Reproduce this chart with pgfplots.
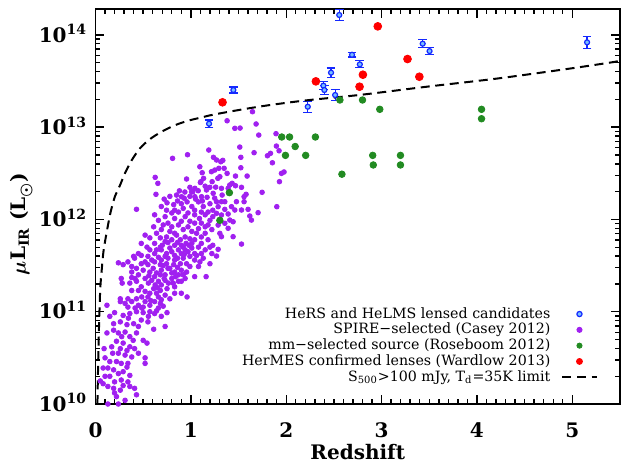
\documentclass[border=0pt]{standalone}
\usepackage{fontspec}
\setmainfont{DejaVu Serif}
\usepackage{pgfplots}
\pgfplotsset{compat=1.18}
\definecolor{cpurple}{RGB}{160,32,240}
\definecolor{cgreen}{RGB}{34,139,34}
\definecolor{cred}{RGB}{255,0,0}
\definecolor{cblue}{RGB}{20,40,255}
\definecolor{clblue}{RGB}{120,190,255}
\begin{document}
\begin{tikzpicture}
\begin{axis}[
  scale only axis,
  width=262.25pt, height=197.5pt,
  xmin=0, xmax=5.5, ymin=10, ymax=14.28,
  xtick={0,1,2,3,4,5}, xticklabels={0,1,2,3,4,5},
  minor x tick num=9,
  ytick={10,11,12,13,14},
  yticklabels={10\textsuperscript{10},10\textsuperscript{11},10\textsuperscript{12},10\textsuperscript{13},10\textsuperscript{14}},
  minor ytick={10.301,10.477,10.602,10.699,10.778,10.845,10.903,10.954,
               11.301,11.477,11.602,11.699,11.778,11.845,11.903,11.954,
               12.301,12.477,12.602,12.699,12.778,12.845,12.903,12.954,
               13.301,13.477,13.602,13.699,13.778,13.845,13.903,13.954,14.301},
  xtick pos=both, ytick pos=both,
  xticklabel pos=lower, yticklabel pos=left,
  tick align=inside,
  major tick length=4.5pt, minor tick length=2.3pt,
  axis line style={line width=0.8pt},
  every tick/.style={black, line width=0.7pt},
  tick label style={font=\fontsize{10}{12}\selectfont\bfseries, inner sep=0pt},
  xticklabel style={anchor=base, yshift=-16.8pt},
  yticklabel style={anchor=base east, xshift=-4pt, yshift=-3.6pt},
  xlabel={Redshift},
  ylabel={{\boldmath$\mu$}L\textsubscript{IR} (L\textsubscript{{\boldmath$\odot$}})},
  label style={font=\fontsize{10}{12}\selectfont\bfseries},
  xlabel style={at={(axis description cs:0.5,0)}, anchor=base, yshift=-27.8pt, inner sep=0pt},
  ylabel style={at={(axis description cs:-0.141,0.456)}, anchor=center, inner sep=0pt},
  legend style={draw=none, fill=none, at={(axis description cs:0.958,0.049)}, anchor=south east,
     inner sep=0pt, font=\fontsize{7.1}{8}\selectfont, row sep=0.9pt, column sep=5.5pt,
     nodes={inner sep=0pt, text height=5.5pt, text depth=1.5pt}},
  legend cell align=right,
  legend plot pos=right,
]
\coordinate (ll) at (rel axis cs:0,0);
\addlegendimage{only marks, mark=*, mark size=1.3pt, mark options={draw=cblue, fill=clblue, line width=0.6pt}}
\addlegendentry{HeRS and HeLMS lensed candidates}
\addlegendimage{only marks, mark=*, mark size=1.3pt, mark options={draw=cpurple, fill=cpurple}}
\addlegendentry{SPIRE−selected (Casey 2012)}
\addlegendimage{only marks, mark=*, mark size=1.3pt, mark options={draw=cgreen, fill=cgreen}}
\addlegendentry{mm−selected source (Roseboom 2012)}
\addlegendimage{only marks, mark=*, mark size=1.5pt, mark options={draw=cred, fill=cred}}
\addlegendentry{HerMES confirmed lenses (Wardlow 2013)}
\addlegendimage{black, line width=1pt, dash pattern=on 4.5pt off 2.8pt}
\addlegendentry{S\textsubscript{500}>100 mJy, T\textsubscript{d}=35K limit}

% SPIRE-selected (Casey 2012): redshift, log10(mu L_IR)
\addplot[forget plot, only marks, mark=*, mark size=1.17pt, mark options={draw=cpurple, fill=cpurple}] table[x=z, y=l] {
z l
1.188 12.752
0.965 12.701
0.808 12.662
1.237 12.673
1.094 12.571
1.119 12.506
1.216 12.517
0.626 12.456
0.654 12.391
0.955 12.438
1.105 12.409
1.133 12.445
1.223 12.409
0.634 12.272
1.199 12.348
1.042 12.337
0.990 12.348
1.007 12.300
0.937 12.297
0.850 12.264
0.902 12.246
1.077 12.311
1.164 12.319
1.234 12.283
1.042 12.246
1.112 12.246
1.646 13.167
1.380 13.069
1.461 12.987
1.516 12.990
1.684 13.034
1.712 12.914
1.893 12.929
1.897 12.795
1.925 12.744
1.513 12.784
1.663 12.723
1.835 12.716
1.803 12.690
1.855 12.614
1.524 12.673
1.524 12.560
1.269 12.644
1.314 12.625
1.335 12.640
1.251 12.535
1.293 12.554
1.349 12.554
1.380 12.499
1.283 12.445
1.304 12.463
1.468 12.470
1.590 12.470
1.950 12.499
1.977 12.514
1.929 12.409
1.433 12.391
1.408 12.373
1.468 12.365
1.531 12.348
1.321 12.337
1.391 12.337
1.747 12.294
1.579 12.272
1.558 12.246
1.328 12.264
1.269 12.192
1.321 12.192
1.356 12.192
1.478 12.192
1.558 12.192
1.901 12.138
1.286 12.138
1.426 12.138
1.356 12.109
1.461 12.102
1.531 12.102
1.600 12.109
1.705 12.073
1.618 12.037
1.635 11.993
1.269 12.066
1.321 12.048
1.391 12.059
1.408 11.993
1.443 11.975
1.356 11.958
1.286 11.939
1.391 11.904
1.304 11.849
1.321 11.813
1.443 11.813
1.531 11.733
1.286 11.676
1.269 11.603
0.43 12.11
0.62 12.05
0.69 12.14
0.82 12.16
0.83 12.10
0.90 12.17
0.96 12.19
1.01 12.14
1.08 12.19
1.13 12.14
1.20 12.17
1.23 12.10
0.66 11.99
0.73 12.03
0.76 11.96
0.83 12.01
0.87 11.94
0.94 12.03
0.99 11.98
1.04 12.05
1.09 12.01
1.15 12.05
1.20 11.99
1.23 12.03
0.61 11.92
0.69 11.89
0.78 11.87
0.83 11.85
0.92 11.89
1.01 11.87
1.08 11.90
1.15 11.92
1.22 11.89
0.52 11.83
0.57 11.80
0.48 11.74
0.54 11.70
0.68 11.80
0.73 11.76
0.80 11.78
0.89 11.78
0.95 11.74
1.04 11.78
1.11 11.81
1.18 11.78
1.23 11.72
0.45 11.63
0.41 11.58
0.48 11.61
0.55 11.60
0.62 11.63
0.69 11.67
0.78 11.69
0.87 11.67
0.94 11.67
1.01 11.69
1.08 11.70
1.15 11.67
1.22 11.63
0.24 11.53
0.29 11.51
0.34 11.54
0.38 11.49
0.43 11.47
0.48 11.52
0.55 11.51
0.62 11.54
0.69 11.56
0.76 11.58
0.83 11.56
0.92 11.58
0.99 11.60
1.06 11.61
1.13 11.58
1.20 11.52
0.38 11.43
0.45 11.40
0.52 11.36
0.57 11.43
0.64 11.42
0.69 11.45
0.76 11.47
0.83 11.43
0.90 11.45
0.99 11.49
1.08 11.49
1.16 11.38
0.27 11.36
0.36 11.31
0.43 11.33
0.48 11.27
0.59 11.34
0.66 11.33
0.73 11.34
0.80 11.36
0.87 11.33
0.94 11.36
1.04 11.38
0.45 11.23
0.52 11.22
0.61 11.25
0.68 11.23
0.75 11.25
0.83 11.27
0.90 11.20
0.96 11.16
0.26 11.14
0.34 11.14
0.43 11.14
0.55 11.16
0.66 11.16
0.73 11.18
0.78 11.14
0.745 12.10
0.80 12.07
0.87 12.08
0.92 12.12
0.97 12.07
1.04 12.10
1.11 12.08
1.18 12.08
0.71 11.94
0.80 11.92
0.90 11.98
0.97 11.92
1.04 11.96
1.11 11.96
1.18 11.94
0.64 11.85
0.745 11.81
0.85 11.83
0.94 11.81
0.99 11.79
1.06 11.85
1.15 11.85
0.62 11.74
0.68 11.70
0.83 11.72
0.90 11.72
1.01 11.74
1.11 11.74
1.20 11.70
0.57 11.67
0.64 11.67
0.745 11.63
0.83 11.61
0.90 11.63
0.97 11.65
1.04 11.63
1.11 11.63
0.52 11.54
0.59 11.56
0.68 11.51
0.745 11.52
0.82 11.51
0.89 11.52
0.955 11.52
1.04 11.56
1.095 11.54
0.50 11.45
0.605 11.47
0.68 11.40
0.73 11.40
0.80 11.42
0.87 11.40
0.955 11.43
0.415 11.36
0.555 11.31
0.625 11.29
0.69 11.29
0.765 11.31
0.815 11.31
0.90 11.33
0.38 11.23
0.57 11.20
0.64 11.20
0.69 11.13
0.83 11.20
0.485 11.16
0.26 11.11
0.31 11.09
0.34 11.05
0.38 11.11
0.45 11.07
0.52 11.11
0.57 11.07
0.62 11.11
0.68 11.09
0.71 11.06
0.12 11.07
0.20 10.99
0.29 10.96
0.36 10.98
0.43 11.00
0.50 10.99
0.57 11.00
0.62 10.98
0.75 10.99
0.19 10.87
0.26 10.89
0.33 10.86
0.40 10.87
0.48 10.91
0.55 10.89
0.73 10.84
0.61 10.81
0.12 10.77
0.19 10.80
0.24 10.77
0.31 10.78
0.36 10.73
0.43 10.77
0.50 10.69
0.54 10.66
0.22 10.68
0.29 10.66
0.36 10.62
0.41 10.60
0.17 10.62
0.24 10.55
0.31 10.53
0.38 10.51
0.10 10.50
0.15 10.46
0.22 10.46
0.27 10.44
0.34 10.44
0.33 10.40
0.52 10.50
0.52 10.44
0.08 10.39
0.13 10.39
0.19 10.37
0.24 10.33
0.29 10.35
0.36 10.31
0.10 10.30
0.15 10.30
0.20 10.24
0.27 10.26
0.34 10.24
0.08 10.22
0.13 10.19
0.19 10.17
0.26 10.15
0.36 10.19
0.41 10.17
0.43 10.10
0.20 10.12
0.13 10.00
0.24 10.00
0.31 10.04
0.415 11.04
0.485 11.04
0.555 10.95
0.66 11.04
0.345 10.93
0.45 10.84
0.275 10.73
0.395 10.69
0.15 10.95
0.69 10.95
0.40 11.60
0.28 11.31
0.38 11.37
0.72 12.22
0.78 12.25
0.86 12.20
0.93 12.23
0.99 12.25
1.05 12.22
1.12 12.20
1.17 12.24
1.25 12.23
0.75 12.18
1.02 12.30
1.15 12.36
0.88 12.31
1.26 12.35
1.10 12.40
0.70 11.72
0.76 11.75
0.86 11.75
0.92 11.70
0.98 11.72
0.73 11.60
0.80 11.65
0.86 11.58
0.93 11.62
0.66 11.59
0.71 11.50
0.78 11.47
0.86 11.48
0.62 11.38
0.72 11.36
0.84 11.38
0.92 11.40
0.56 11.39
0.65 11.26
0.58 11.12
0.50 11.05
0.64 11.01
0.18 10.55
0.26 10.60
0.33 10.58
0.45 10.55
0.29 10.20
0.22 10.08
0.05 10.25
0.09 10.60
};

% mm-selected (Roseboom 2012)
\addplot[forget plot, only marks, mark=*, mark size=1.65pt, mark options={draw=cgreen, fill=cgreen}] table[x=z, y=l] {
z l
1.304 11.99
1.404 12.29
1.953 12.893
1.992 12.694
2.035 12.893
2.094 12.79
2.204 12.694
2.306 12.893
2.563 13.294
2.584 12.49
2.800 13.294
2.907 12.694
2.913 12.59
2.981 13.193
3.198 12.694
3.198 12.59
4.048 13.193
4.048 13.091
};

% HerMES confirmed lenses (Wardlow 2013)
\addplot[forget plot, only marks, mark=*, mark size=1.95pt, mark options={draw=cred, fill=cred}] table[x=z, y=l] {
z l
1.332 13.269
2.311 13.496
2.769 13.438
2.804 13.568
2.960 14.092
3.272 13.738
3.396 13.546
};

% HeRS and HeLMS lensed candidates
\addplot[forget plot, only marks, mark=*, mark size=1.25pt, mark options={draw=cblue, fill=clblue, line width=0.6pt},
  error bars/.cd, y dir=both, y explicit, error mark=-,
  error bar style={cblue, line width=0.6pt},
  error mark options={rotate=90, cblue, mark size=2.2pt, line width=0.6pt}] table[x=z, y=l, y error=e] {
z l e
2.556 14.215 0.06
1.191 13.037 0.04
1.446 13.402 0.033
2.226 13.221 0.06
2.390 13.449 0.045
2.400 13.402 0.05
2.470 13.590 0.05
2.513 13.348 0.058
2.690 13.784 0.025
2.772 13.680 0.038
3.431 13.904 0.042
3.503 13.824 0.038
5.155 13.919 0.063
};

% S500 > 100 mJy, Td = 35 K limit
\addplot[forget plot, black, line width=1pt, dash pattern=on 4.5pt off 2.8pt, smooth] coordinates {
(0.02,10.0) (0.03,10.55) (0.04,10.95) (0.05,11.25) (0.065,11.45) (0.082,11.64) (0.10,11.76)
(0.117,11.86) (0.152,12.05) (0.183,12.18) (0.204,12.25) (0.257,12.37) (0.309,12.50)
(0.379,12.64) (0.466,12.77) (0.571,12.87) (0.693,12.95) (0.832,13.02) (0.972,13.07)
(1.112,13.105) (1.234,13.135) (1.50,13.185) (1.80,13.235) (2.21,13.29) (2.78,13.35)
(3.49,13.44) (4.20,13.525) (4.91,13.625) (5.40,13.70) (5.5,13.72)
};
\end{axis}
\pgfresetboundingbox
\path (ll) ++(-47.75pt,-29.5pt) rectangle ++(310.5pt,231.5pt);
\end{tikzpicture}
\end{document}
